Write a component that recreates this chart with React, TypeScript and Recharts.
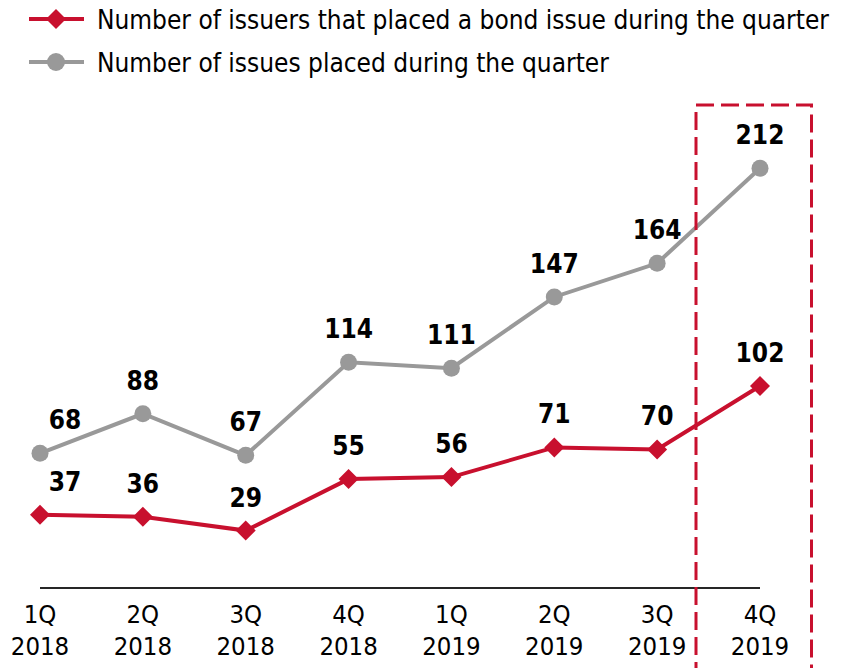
import React from 'react';
import { LineChart, Line, XAxis, YAxis, Legend, LabelList } from 'recharts';

const quarters = ['1Q', '2Q', '3Q', '4Q', '1Q', '2Q', '3Q', '4Q'];
const years = ['2018', '2018', '2018', '2018', '2019', '2019', '2019', '2019'];
const issuers = [37, 36, 29, 55, 56, 71, 70, 102];
const issues = [68, 88, 67, 114, 111, 147, 164, 212];

const ISSUERS_NAME = 'Number of issuers that placed a bond issue during the quarter';
const ISSUES_NAME = 'Number of issues placed during the quarter';

const RED = '#C8102E';
const GRAY = '#999999';
const FONT = "'DejaVu Sans Condensed', 'DejaVu Sans', sans-serif";

const data = quarters.map((q, i) => ({
  period: `${q} ${years[i]}`,
  issuers: issuers[i],
  issues: issues[i],
}));

const Diamond = ({ cx, cy, size = 10, fill }: any) => {
  if (cx == null || cy == null) return null;
  return (
    <polygon
      points={`${cx},${cy - size} ${cx + size},${cy} ${cx},${cy + size} ${cx - size},${cy}`}
      fill={fill}
    />
  );
};

const RedDot = (props: any) => <Diamond key={`d-${props.index}`} cx={props.cx} cy={props.cy} fill={RED} />;

const GrayDot = (props: any) => {
  const { cx, cy, index } = props;
  if (cx == null || cy == null) return null;
  return <circle key={`c-${index}`} cx={cx} cy={cy} r={8.5} fill={GRAY} />;
};

const ValueLabel = (props: any) => {
  const { x, y, value, index } = props;
  const dx = index === 0 ? 25 : 0;
  return (
    <text
      x={x + dx}
      y={y - 24}
      textAnchor="middle"
      fontFamily={FONT}
      fontWeight="bold"
      fontSize={26}
      fill="#000"
    >
      {value}
    </text>
  );
};

const PeriodTick = ({ x, y, payload }: any) => {
  const [q, yr] = String(payload.value).split(' ');
  return (
    <g>
      <text x={x} y={y + 27} textAnchor="middle" fontFamily={FONT} fontSize={25.5} fill="#000">
        {q}
      </text>
      <text x={x} y={y + 59} textAnchor="middle" fontFamily={FONT} fontSize={25.5} fill="#000">
        {yr}
      </text>
    </g>
  );
};

const LegendBox = () => {
  const rows = [
    { name: ISSUERS_NAME, color: RED, marker: 'diamond' },
    { name: ISSUES_NAME, color: GRAY, marker: 'circle' },
  ];
  return (
    <svg width={842} height={90}>
      {rows.map((r, i) => {
        const cy = 19 + i * 43;
        return (
          <g key={r.name}>
            <line x1={29} x2={84} y1={cy} y2={cy} stroke={r.color} strokeWidth={4} />
            {r.marker === 'diamond' ? (
              <Diamond cx={56} cy={cy} size={10} fill={r.color} />
            ) : (
              <circle cx={56} cy={cy} r={9} fill={r.color} />
            )}
            <text x={97} y={cy + 9.5} fontFamily={FONT} fontSize={26} fill="#000">
              {r.name}
            </text>
          </g>
        );
      })}
    </svg>
  );
};

export default function App() {
  return (
    <div style={{ position: 'absolute', left: 0, top: 0, width: 842, height: 668, background: '#fff' }}>
      <LineChart width={842} height={668} data={data} margin={{ top: 93, right: 82, bottom: 0, left: 40 }}>
        <XAxis
          dataKey="period"
          padding={{ left: 0, right: 0 }}
          axisLine={{ stroke: '#262626', strokeWidth: 2 }}
          tickLine={false}
          tick={<PeriodTick />}
          height={80}
          interval={0}
        />
        <YAxis hide domain={[0, 250]} width={0} />
        <Legend
          layout="horizontal"
          verticalAlign="middle"
          align="center"
          wrapperStyle={{ position: 'absolute', left: 0, top: 0, width: 842, height: 90 }}
          content={() => <LegendBox />}
        />
        <Line
          dataKey="issues"
          name={ISSUES_NAME}
          stroke={GRAY}
          strokeWidth={4}
          dot={<GrayDot />}
          activeDot={false}
          isAnimationActive={false}
        >
          <LabelList dataKey="issues" content={<ValueLabel />} />
        </Line>
        <Line
          dataKey="issuers"
          name={ISSUERS_NAME}
          stroke={RED}
          strokeWidth={4}
          dot={<RedDot />}
          activeDot={false}
          isAnimationActive={false}
        >
          <LabelList dataKey="issuers" content={<ValueLabel />} />
        </Line>
      </LineChart>
      <svg width={842} height={668} style={{ position: 'absolute', left: 0, top: 0, pointerEvents: 'none' }}>
        <path
          d="M 696 680 L 696 105 L 811.5 105 L 811.5 680"
          fill="none"
          stroke={RED}
          strokeWidth={3}
          strokeDasharray="18 7"
        />
      </svg>
    </div>
  );
}
